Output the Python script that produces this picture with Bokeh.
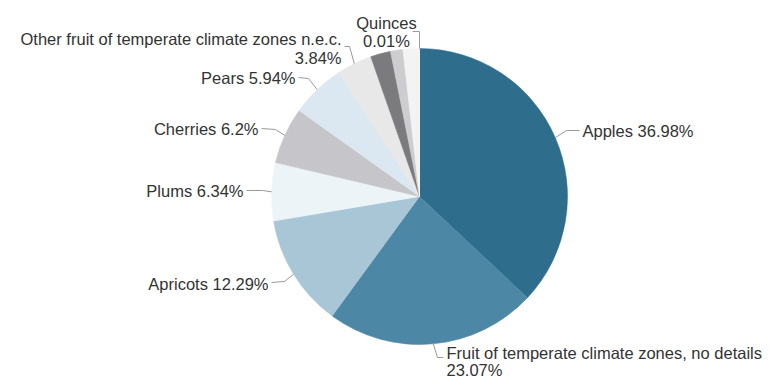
import numpy as np
from bokeh.plotting import figure
from bokeh.models import ColumnDataSource, Range1d
from bokeh.embed import file_html
from bokeh.resources import INLINE
from bokeh.core.properties import value

# ---- data ----
categories = ["Apples", "Fruit of temperate climate zones, no details", "Apricots",
              "Plums", "Cherries", "Pears",
              "Other fruit of temperate climate zones n.e.c.",
              "unlabelled A", "unlabelled B", "unlabelled C", "Quinces"]
shares = [36.98, 23.07, 12.29, 6.34, 6.2, 5.94, 3.84, 2.2, 1.35, 1.78, 0.01]
colors = ["#2e6d8c", "#4c87a5", "#a9c6d6", "#edf4f8", "#c6c5ca", "#dbe8f1",
          "#e8e8e9", "#7b7b7e", "#cdcdcf", "#f3f3f3", "#ffffff"]
label_lines = {
    "Apples": ["Apples 36.98%"],
    "Fruit of temperate climate zones, no details": ["Fruit of temperate climate zones, no details", "23.07%"],
    "Apricots": ["Apricots 12.29%"],
    "Plums": ["Plums 6.34%"],
    "Cherries": ["Cherries 6.2%"],
    "Pears": ["Pears 5.94%"],
    "Other fruit of temperate climate zones n.e.c.": ["Other fruit of temperate climate zones n.e.c.", "3.84%"],
    "Quinces": ["Quinces", "0.01%"],
}

# ---- layout (screen pixel positions of labels, converted below) ----
W, H = 769, 378
def X(px): return px
def Y(py): return H - py

CX, CY, R = X(419), Y(196), 148

label_layout = {
    # name: (text x, first line y, line step, align, bend point, end point)
    "Apples": (582, 130, 18, "left", (566, 130), (579, 130)),
    "Fruit of temperate climate zones, no details": (446, 352, 17, "left", (437, 357), (443, 357)),
    "Apricots": (268, 283, 18, "right", (284, 281), (271, 282)),
    "Plums": (243, 190, 18, "right", (262, 190), (246, 190)),
    "Cherries": (258, 128, 18, "right", (275, 129), (261, 128)),
    "Pears": (295, 77, 18, "right", (308, 78), (298, 77)),
    "Other fruit of temperate climate zones n.e.c.": (341, 38, 19, "right", (349, 46), (344, 46)),
    "Quinces": (386, 22, 18, "center", (419, 31), (412, 31)),
}

total = sum(shares)
frac = np.array(shares) / total
cum = np.concatenate([[0], np.cumsum(frac)])
start = np.pi / 2 - cum[:-1] * 2 * np.pi
end = np.pi / 2 - cum[1:] * 2 * np.pi
mid = (start + end) / 2

src = ColumnDataSource(dict(cat=categories, start=start, end=end, color=colors))

p = figure(width=W, height=H, output_backend="svg", toolbar_location=None,
           x_range=Range1d(0, W), y_range=Range1d(0, H), min_border=0,
           match_aspect=False)
p.axis.visible = False
p.grid.visible = False
p.outline_line_color = None
p.background_fill_color = "white"

p.wedge(x=CX, y=CY, radius=R, start_angle="start", end_angle="end",
        direction="clock", fill_color="color", line_color="color",
        line_width=0.5, source=src)

lines_x, lines_y = [], []
tx = {"left": ([], [], []), "right": ([], [], []), "center": ([], [], [])}
for i, cat in enumerate(categories):
    if cat not in label_lines:
        continue
    x0, y0, step, align, bend, endp = label_layout[cat]
    ex = CX + R * np.cos(mid[i])
    ey = CY + R * np.sin(mid[i])
    lines_x.append([ex, X(bend[0]), X(endp[0])])
    lines_y.append([ey, Y(bend[1]), Y(endp[1])])
    for k, t in enumerate(label_lines[cat]):
        tx[align][0].append(X(x0))
        tx[align][1].append(Y(y0 + k * step))
        tx[align][2].append(t)

p.multi_line(xs=lines_x, ys=lines_y, line_color="#9a9a9a", line_width=1)

for align, (xs, ys, ts) in tx.items():
    if not ts:
        continue
    p.text(x=xs, y=ys, text=ts, text_align=align, text_baseline="middle",
           text_font=value("Liberation Sans"), text_font_size="16.5px",
           text_color="#333333")

open("out.html", "w").write(file_html(p, INLINE))
